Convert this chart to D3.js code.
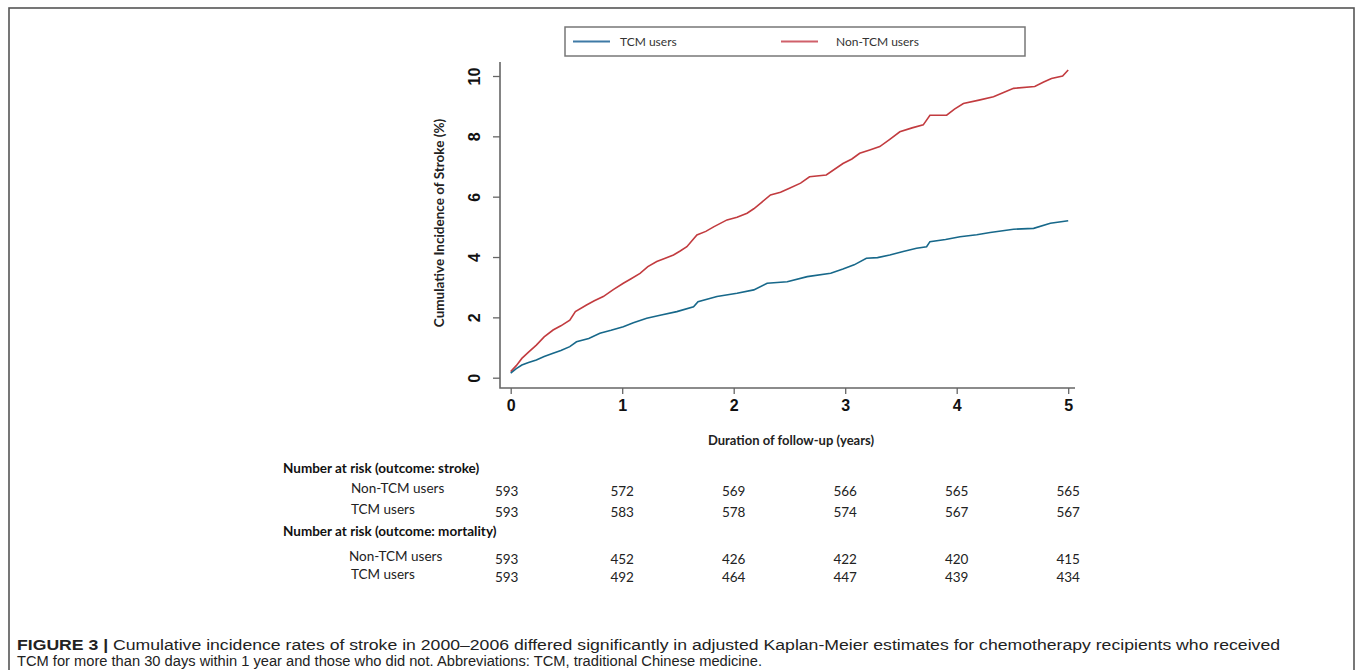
<!DOCTYPE html>
<html>
<head>
<meta charset="utf-8">
<script src="https://cdn.jsdelivr.net/npm/d3@7"></script>
<style>
  body { margin: 0; background: #fff; }
  svg { display: block; }
  .tick text { font-family: "Liberation Sans", Arial, sans-serif; }
</style>
</head>
<body>
<script>
// follow-up years shown on the x axis
const years = [0, 1, 2, 3, 4, 5];
const yTicks = [0, 2, 4, 6, 8, 10];

// cumulative incidence (%), time in years
const nonTcmTime = [0, 0.05, 0.1, 0.16, 0.23, 0.3, 0.38, 0.45, 0.53, 0.58, 0.68, 0.75, 0.83, 0.92, 1.01,
  1.08, 1.16, 1.23, 1.31, 1.38, 1.46, 1.52, 1.58, 1.67, 1.75, 1.82, 1.94, 2.03, 2.12, 2.18, 2.24, 2.33,
  2.42, 2.5, 2.6, 2.68, 2.83, 2.98, 3.06, 3.13, 3.22, 3.31, 3.4, 3.49, 3.6, 3.7, 3.76, 3.91, 3.98, 4.06,
  4.2, 4.33, 4.42, 4.51, 4.7, 4.78, 4.85, 4.95, 5.0];
const nonTcmValue = [0.2, 0.4, 0.64, 0.85, 1.08, 1.35, 1.58, 1.72, 1.91, 2.19, 2.41, 2.55, 2.69, 2.92, 3.13,
  3.28, 3.46, 3.68, 3.85, 3.95, 4.07, 4.2, 4.34, 4.73, 4.85, 5.0, 5.23, 5.32, 5.45, 5.6, 5.78, 6.06,
  6.15, 6.28, 6.45, 6.66, 6.72, 7.1, 7.25, 7.44, 7.55, 7.66, 7.9, 8.15, 8.28, 8.38, 8.7, 8.7, 8.9, 9.09,
  9.2, 9.31, 9.45, 9.59, 9.65, 9.8, 9.92, 10.0, 10.2];

const tcmTime = [0, 0.05, 0.1, 0.16, 0.23, 0.3, 0.38, 0.45, 0.53, 0.59, 0.7, 0.8, 0.9, 1.01, 1.1, 1.22,
  1.35, 1.49, 1.64, 1.68, 1.85, 2.03, 2.18, 2.3, 2.48, 2.66, 2.87, 2.98, 3.08, 3.19, 3.29, 3.4, 3.52,
  3.64, 3.73, 3.76, 3.9, 4.03, 4.18, 4.3, 4.51, 4.69, 4.84, 5.0];
const tcmValue = [0.15, 0.3, 0.42, 0.5, 0.59, 0.7, 0.81, 0.9, 1.03, 1.19, 1.3, 1.47, 1.57, 1.69, 1.82, 1.97,
  2.08, 2.19, 2.35, 2.52, 2.69, 2.8, 2.91, 3.13, 3.18, 3.35, 3.46, 3.6, 3.74, 3.96, 3.98, 4.07, 4.18,
  4.29, 4.34, 4.51, 4.58, 4.67, 4.74, 4.81, 4.92, 4.95, 5.12, 5.2];

// number at risk table
const riskStrokeNon = [593, 572, 569, 566, 565, 565];
const riskStrokeTcm = [593, 583, 578, 574, 567, 567];
const riskMortNon = [593, 452, 426, 422, 420, 415];
const riskMortTcm = [593, 492, 464, 447, 439, 434];

const W = 1357, H = 670;
const calibri = 'Lato, "Open Sans", sans-serif';
const red = '#c23b3f';
const blue = '#17688a';

const svg = d3.select('body').append('svg')
  .attr('width', W)
  .attr('height', H);

// outer figure frame (bottom runs off the page)
svg.append('rect')
  .attr('x', 9).attr('y', 8)
  .attr('width', 1345).attr('height', 700)
  .attr('fill', 'none')
  .attr('stroke', '#555')
  .attr('stroke-width', 1.6);

const x = d3.scaleLinear().domain([0, 5]).range([510.7, 1068.2]);
const y = d3.scaleLinear().domain([0, 10]).range([377.7, 76]);

// L shaped box of the plot
svg.append('path')
  .attr('d', 'M500,62V388H1075')
  .attr('fill', 'none')
  .attr('stroke', '#666')
  .attr('stroke-width', 1.6);

const xAxis = svg.append('g')
  .attr('transform', 'translate(0,388)')
  .call(d3.axisBottom(x).tickValues(years).tickFormat(d3.format('d')).tickSize(6).tickPadding(6));
xAxis.select('.domain').remove();
xAxis.selectAll('.tick line').attr('stroke', '#666').attr('stroke-width', 1.3);
xAxis.selectAll('.tick text')
  .attr('fill', '#111')
  .style('font-size', '16px')
  .style('font-weight', 'bold');

const yAxis = svg.append('g')
  .attr('transform', 'translate(500,0)')
  .call(d3.axisLeft(y).tickValues(yTicks).tickSize(7).tickPadding(0));
yAxis.select('.domain').remove();
yAxis.selectAll('.tick line').attr('stroke', '#666').attr('stroke-width', 1.3);
yAxis.selectAll('.tick text')
  .attr('x', 0).attr('dy', 0)
  .attr('text-anchor', 'middle')
  .attr('transform', 'translate(-20,0) rotate(-90)')
  .attr('fill', '#111')
  .style('font-size', '16px')
  .style('font-weight', 'bold');

// axis titles
svg.append('text')
  .attr('transform', 'translate(444,223) rotate(-90)')
  .attr('text-anchor', 'middle')
  .style('font-family', calibri)
  .style('font-size', '13.5px')
  .style('font-weight', 'bold')
  .attr('fill', '#222')
  .text('Cumulative Incidence of Stroke (%)');

svg.append('text')
  .attr('x', 791).attr('y', 445)
  .attr('text-anchor', 'middle')
  .style('font-family', calibri)
  .style('font-size', '13px')
  .style('font-weight', 'bold')
  .attr('fill', '#222')
  .text('Duration of follow-up (years)');

// curves
const line = d3.line()
  .x(d => x(d[0]))
  .y(d => y(d[1]))
  .curve(d3.curveLinear);

const curves = [
  {name: 'Non-TCM users', color: red, pts: d3.zip(nonTcmTime, nonTcmValue)},
  {name: 'TCM users', color: blue, pts: d3.zip(tcmTime, tcmValue)}
];

svg.selectAll('.curve')
  .data(curves)
  .enter().append('path')
    .attr('class', 'curve')
    .attr('d', d => line(d.pts))
    .attr('fill', 'none')
    .attr('stroke', d => d.color)
    .attr('stroke-width', 1.6);

// legend
svg.append('rect')
  .attr('x', 565).attr('y', 27)
  .attr('width', 460).attr('height', 29)
  .attr('fill', '#fff')
  .attr('stroke', '#777')
  .attr('stroke-width', 1.5);

const legendItems = [
  {name: 'TCM users', color: '#3f7aa6', x0: 573},
  {name: 'Non-TCM users', color: '#d0606a', x0: 781}
];
const lg = svg.selectAll('.legend')
  .data(legendItems)
  .enter().append('g')
    .attr('class', 'legend');
lg.append('line')
  .attr('x1', d => d.x0).attr('x2', d => d.x0 + 37)
  .attr('y1', 41.5).attr('y2', 41.5)
  .attr('stroke', d => d.color)
  .attr('stroke-width', 2);
lg.append('text')
  .attr('x', d => d.x0 + (d.x0 > 700 ? 55 : 47))
  .attr('y', 45.5)
  .style('font-family', calibri)
  .style('font-size', '12px')
  .attr('fill', '#333')
  .text(d => d.name);

// number at risk table
const tableRows = [
  {label: 'Non-TCM users', vals: riskStrokeNon, y: 496},
  {label: 'TCM users', vals: riskStrokeTcm, y: 516.5},
  {label: 'Non-TCM users', vals: riskMortNon, y: 564},
  {label: 'TCM users', vals: riskMortTcm, y: 581.5}
];
const headers = [
  {text: 'Number at risk (outcome: stroke)', y: 472.5},
  {text: 'Number at risk (outcome: mortality)', y: 535.5}
];

svg.selectAll('.hdr')
  .data(headers)
  .enter().append('text')
    .attr('class', 'hdr')
    .attr('x', 283).attr('y', d => d.y)
    .style('font-family', calibri)
    .style('font-size', '13.5px')
    .style('font-weight', 'bold')
    .attr('fill', '#111')
    .text(d => d.text);

const rows = svg.selectAll('.row')
  .data(tableRows)
  .enter().append('g')
    .attr('class', 'row');
rows.append('text')
  .attr('x', (d, i) => i === 2 ? 349 : 351)
  .attr('y', d => d.y - 3)
  .style('font-family', calibri)
  .style('font-size', '13.5px')
  .attr('fill', '#222')
  .text(d => d.label);
rows.selectAll('.num')
  .data(d => d.vals.map((v, i) => ({v, i, y: d.y})))
  .enter().append('text')
    .attr('class', 'num')
    .attr('x', d => x(years[d.i]) - (d.i === 0 ? 4 : 0))
    .attr('y', d => d.y)
    .attr('text-anchor', 'middle')
    .style('font-family', calibri)
    .style('font-size', '13.5px')
    .attr('fill', '#222')
    .text(d => d.v);

// caption
const cap1 = svg.append('text')
  .attr('x', 17).attr('y', 650)
  .style('font-family', '"Liberation Sans", Arial, sans-serif')
  .style('font-size', '15.5px')
  .attr('fill', '#222');
cap1.append('tspan').style('font-weight', 'bold').text('FIGURE 3 | ');
cap1.append('tspan').text('Cumulative incidence rates of stroke in 2000\u20132006 differed significantly in adjusted Kaplan-Meier estimates for chemotherapy recipients who received');
cap1.attr('textLength', 1263).attr('lengthAdjust', 'spacingAndGlyphs');

svg.append('text')
  .attr('x', 17).attr('y', 666)
  .style('font-family', '"Liberation Sans", Arial, sans-serif')
  .style('font-size', '15.5px')
  .attr('fill', '#222')
  .attr('textLength', 745)
  .attr('lengthAdjust', 'spacingAndGlyphs')
  .text('TCM for more than 30 days within 1 year and those who did not. Abbreviations: TCM, traditional Chinese medicine.');
</script>
</body>
</html>
